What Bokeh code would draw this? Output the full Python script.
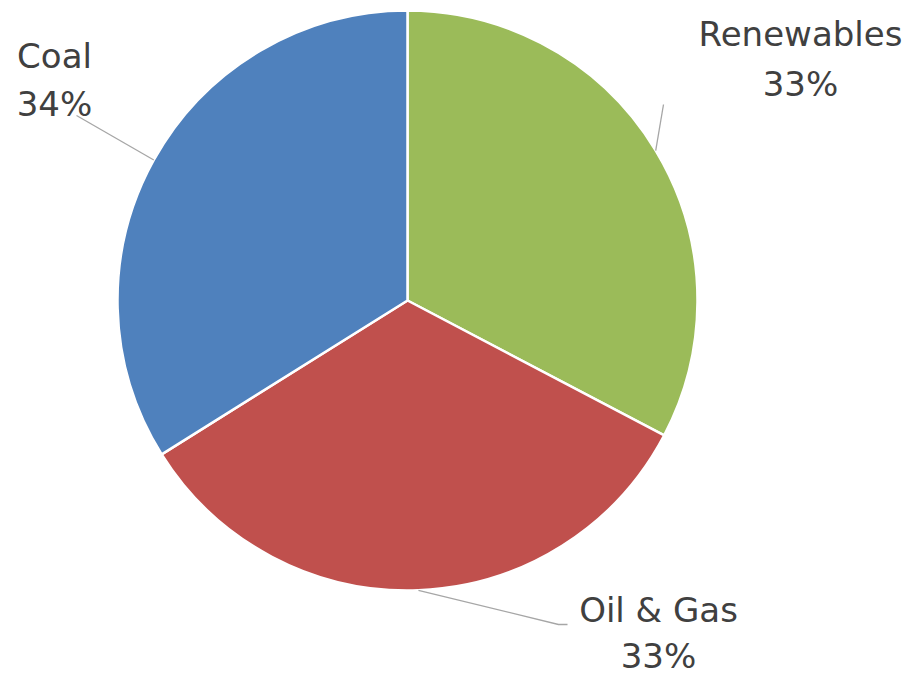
import math
from bokeh.plotting import figure
from bokeh.models import Range1d, ColumnDataSource
from bokeh.core.properties import value
from bokeh.embed import file_html
from bokeh.resources import INLINE

# Data
categories = ["Renewables", "Oil & Gas", "Coal"]
shares = [32.7, 33.4, 33.9]
colors = ["#9BBB59", "#C0504D", "#4F81BD"]

# Layout (picture pixel coordinates, y downward -> data y = -screen y)
W, H = 907, 676
cx, cy, R = 407, -300, 290
TEXT_SHIFT = 12  # compensate for rendered baseline offset

p = figure(width=W, height=H, output_backend="svg", toolbar_location=None,
           x_range=Range1d(0, W), y_range=Range1d(-H, 0),
           min_border=0)
p.axis.visible = False
p.grid.visible = False
p.outline_line_color = None
p.background_fill_color = "white"

total = sum(shares)
starts, ends, mids = [], [], []
acc = 0.0
for s in shares:
    a0 = math.pi / 2 - 2 * math.pi * acc / total
    acc += s
    a1 = math.pi / 2 - 2 * math.pi * acc / total
    starts.append(a0)
    ends.append(a1)
    mids.append((a0 + a1) / 2)

src = ColumnDataSource(dict(start=starts, end=ends, color=colors, cat=categories))
p.wedge(x=cx, y=cy, radius=R, start_angle="start", end_angle="end",
        direction="clock", fill_color="color", line_color="white",
        line_width=2.5, source=src)

# Label positions (screen coords): center x, name baseline, pct baseline
label_pos = {
    "Renewables": (800, 45, 95, "center"),
    "Oil & Gas": (658, 621, 667, "center"),
    "Coal": (54, 67, 115, "center"),
}
leader_ends = {
    "Renewables": [(663, 104)],
    "Oil & Gas": [(558, 624), (567, 624)],
    "Coal": [(76, 115)],
}

for cat, s, m in zip(categories, shares, mids):
    x0 = cx + R * math.cos(m)
    y0 = cy + R * math.sin(m)
    pts = [(x0, y0)] + [(x, -y) for x, y in leader_ends[cat]]
    p.line([q[0] for q in pts], [q[1] for q in pts], line_color="#A6A6A6", line_width=1.3)
    lx, ny, py, al = label_pos[cat]
    pct = f"{round(s / total * 100)}%"
    p.text(x=[lx], y=[-(ny - TEXT_SHIFT)], text=[cat], text_font=value("DejaVu Sans"),
           text_font_size="34px", text_color="#404040", text_align=al,
           text_baseline="alphabetic")
    p.text(x=[lx], y=[-(py - TEXT_SHIFT)], text=[pct], text_font=value("DejaVu Sans"),
           text_font_size="34px", text_color="#404040", text_align=al,
           text_baseline="alphabetic")

open("out.html", "w").write(file_html(p, INLINE))
